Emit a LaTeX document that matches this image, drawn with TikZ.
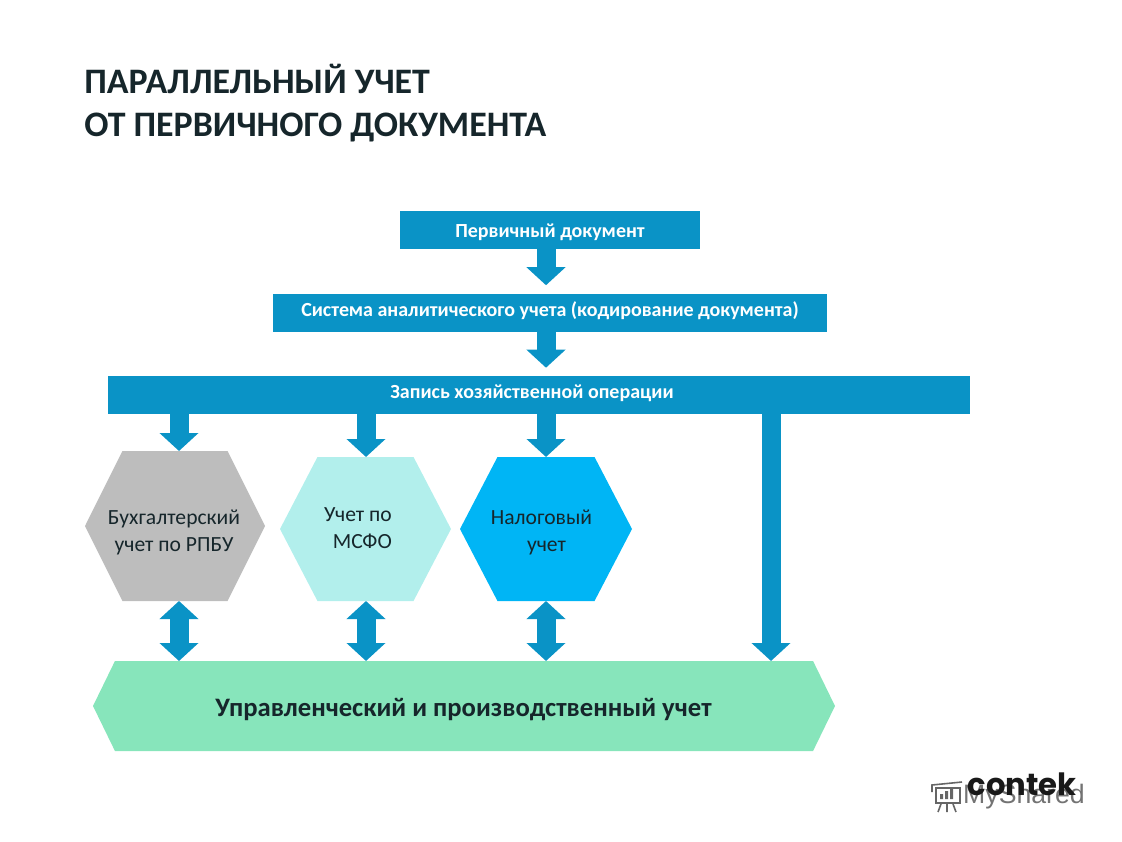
\documentclass[tikz,border=0pt]{standalone}
\usepackage{fontspec}
\setmainfont{Carlito}
\newfontfamily\logofont{Poppins}
\newfontfamily\sharedfont{Liberation Sans}
\usetikzlibrary{arrows.meta,shapes.symbols}
\newdimen\px
\px=0.75pt
\definecolor{barblue}{HTML}{0A93C6}
\definecolor{hexgray}{HTML}{BDBDBD}
\definecolor{hexpale}{HTML}{B2EFEC}
\definecolor{hexsky}{HTML}{00B5F5}
\definecolor{bandgreen}{HTML}{87E5BB}
\definecolor{inkdark}{HTML}{16262B}
\tikzset{
  titlebox/.style={anchor=north west,inner sep=0pt,align=left,font=\bfseries\fontsize{26.9pt}{32.25pt}\selectfont,text=inkdark},
  barbox/.style={fill=barblue,text=white,inner sep=0pt,minimum height=38\px,font=\bfseries\fontsize{15pt}{18pt}\selectfont},
  hexbox/.style={shape=signal,signal to=west and east,inner sep=0pt,outer sep=0pt,minimum height=144\px},
  hextext/.style={inner sep=0pt,align=center,text=inkdark,font=\fontsize{16.2pt}{20.2pt}\selectfont},
  onearrow/.style={draw=barblue,line width=19\px,-{Triangle[length=13.5pt,width=28.5pt,fill=barblue]}},
  twoarrow/.style={draw=barblue,line width=19\px,{Triangle[length=13.5pt,width=28.5pt,fill=barblue]}-{Triangle[length=13.5pt,width=28.5pt,fill=barblue]}},
  iconline/.style={draw=black!60,line width=1.2pt}
}
\begin{document}
\begin{tikzpicture}[x=0.75pt,y=-0.75pt]
  \useasboundingbox (0,0) rectangle (1122,842);

  \node[titlebox] (title) at (84,64) {ПАРАЛЛЕЛЬНЫЙ УЧЕТ\\ОТ ПЕРВИЧНОГО ДОКУМЕНТА};

  % bars
  \node[barbox,minimum width=300\px,text height=13.5pt,text depth=3pt] (doc) at (550,230) {Первичный документ};
  \node[barbox,minimum width=554\px,text height=9pt,text depth=3.4pt] (sys) at (550,312.5) {Система аналитического учета (кодирование документа)};
  \node[barbox,minimum width=862\px] (rec) at (539,395) {};
  \node[inner sep=0pt,text=white,font=\bfseries\fontsize{15pt}{18pt}\selectfont] (recText) at (532,393) {Запись хозяйственной операции};

  % hexagons
  \node[hexbox,fill=hexgray,minimum width=180\px,minimum height=150\px,signal pointer angle=127] (rpbu) at (175,526) {};
  \node[hexbox,fill=hexpale,minimum width=171\px,signal pointer angle=125] (ifrs) at (365.5,529) {};
  \node[hexbox,fill=hexsky,minimum width=172\px,signal pointer angle=125] (tax) at (546,529) {};
  \node[hexbox,fill=bandgreen,minimum width=742\px,minimum height=90\px,signal pointer angle=128] (mgmt) at (464,706) {};

  \node[hextext] (rpbuText) at (174,532) {Бухгалтерский\\учет по РПБУ};
  \node[hextext,align=right] (ifrsText) at (358,528) {Учет по\\МСФО};
  \node[hextext] (taxText) at (541.5,532) {Налоговый\\\hspace*{10\px}учет};
  \node[inner sep=0pt,text=inkdark,font=\bfseries\fontsize{20pt}{24pt}\selectfont] (mgmtText) at (463.5,710) {Управленческий и производственный учет};

  % columns for the arrows
  \coordinate (colA) at (179,0);
  \coordinate (colB) at (366,0);
  \coordinate (colC) at (546,0);
  \coordinate (colD) at (771,0);

  \draw[onearrow,shorten >=8\px] (doc.south -| colC) -- (sys.north -| colC);
  \draw[onearrow,shorten >=8\px] (sys.south -| colC) -- (rec.north -| colC);

  \draw[onearrow] (rec.south -| colA) -- (rpbu.north -| colA);
  \draw[onearrow] (rec.south -| colB) -- (ifrs.north -| colB);
  \draw[onearrow] (rec.south -| colC) -- (tax.north -| colC);
  \draw[onearrow] (rec.south -| colD) -- (mgmt.north -| colD);

  \draw[twoarrow] (rpbu.south -| colA) -- (mgmt.north -| colA);
  \draw[twoarrow] (ifrs.south -| colB) -- (mgmt.north -| colB);
  \draw[twoarrow] (tax.south -| colC) -- (mgmt.north -| colC);

  % logo
  \node[inner sep=0pt,text=black!55,font=\sharedfont\fontsize{20pt}{22pt}\selectfont] (shared) at (1024,797) {MyShared};
  \node[inner sep=0pt,text=black!90,font=\logofont\bfseries\fontsize{23pt}{25pt}\selectfont] (contek) at (1022,784) {contek};
  \draw[iconline] (936,788) rectangle (960,803);
  \draw[iconline] (932,792) -- (932,785) -- (962,782);
  \draw[iconline] (941,804) -- (938,812) (947,804) -- (947,812) (953,804) -- (956,812);
  \fill[black!60] (940,794) rectangle (943,799) (945,791) rectangle (948,799) (950,788) rectangle (953,799);
\end{tikzpicture}
\end{document}
